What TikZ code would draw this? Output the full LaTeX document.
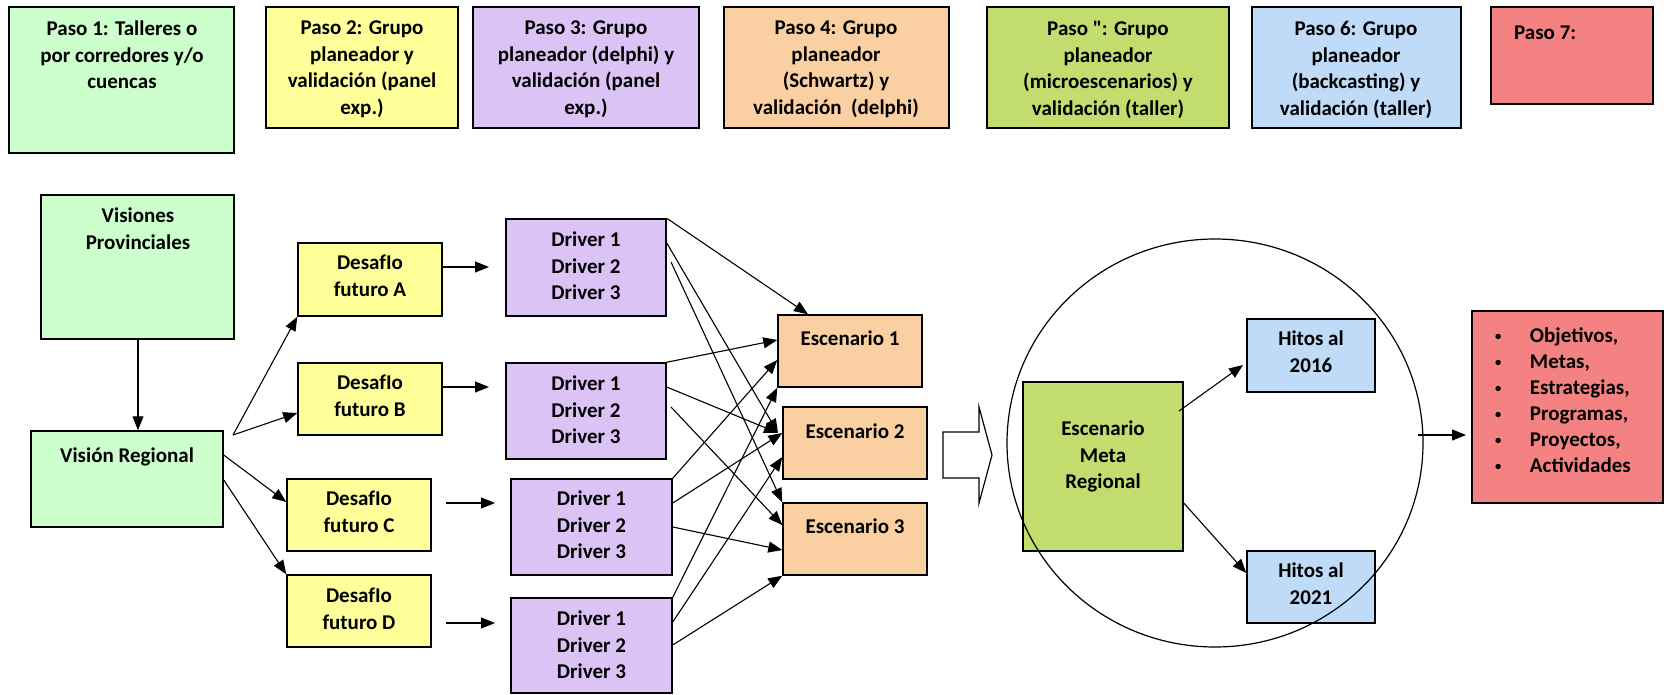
\documentclass[tikz,border=0pt]{standalone}
\usepackage{fontspec}
\usepackage{graphicx}
\setmainfont{Carlito}[Ligatures=TeXOff]
\usetikzlibrary{arrows.meta,fit,shapes.geometric}
\definecolor{cgreen}{HTML}{CCFFCC}
\definecolor{cyellow}{HTML}{FFFF99}
\definecolor{cpurple}{HTML}{DCC3F5}
\definecolor{cpeach}{HTML}{FAD0A2}
\definecolor{colive}{HTML}{C3DC6E}
\definecolor{cblue}{HTML}{BFDBF7}
\definecolor{cred}{HTML}{F58282}
\newcommand{\smallbul}{\raisebox{1.6pt}{\scalebox{0.6}{\textbullet}}}
\begin{document}
\begin{tikzpicture}[x=1pt,y=-1pt,
  box/.style={draw=black, line width=1.5pt, inner sep=0pt},
  txt/.style={anchor=north, inner sep=0pt, align=center, font=\fontsize{21}{26.5}\selectfont\bfseries, execute at begin node=\strut},
  arr/.style={line width=1.1pt, -{Triangle[length=14pt,width=11pt]}},
]
\useasboundingbox (0,0) rectangle (1664,695);

% top row
\node[box, fill=cgreen,  fit={(9,7) (234,153)}] (p1) {};
\node[box, fill=cyellow, fit={(266,7) (458,128)}] (p2) {};
\node[box, fill=cpurple, fit={(473,7) (699,128)}] (p3) {};
\node[box, fill=cpeach,  fit={(724,7) (949,128)}] (p4) {};
\node[box, fill=colive,  fit={(987,7) (1229,128)}] (p5) {};
\node[box, fill=cblue,   fit={(1252,7) (1461,128)}] (p6) {};
\node[box, fill=cred,    fit={(1491,7) (1653,104)}] (p7) {};
\node[txt] (p1t) at (122,21) {Paso 1: Talleres o\\por corredores y/o\\cuencas};
\node[txt] (p2t) at (362,21) {Paso 2: Grupo\\planeador y\\validación (panel\\exp.)};
\node[txt] (p3t) at (586,21) {Paso 3: Grupo\\planeador (delphi) y\\validación (panel\\exp.)};
\node[txt] (p4t) at (836,21) {Paso 4: Grupo\\planeador\\(Schwartz) y\\validación\ \ (delphi)};
\node[txt] (p5t) at (1108,21) {Paso ": Grupo\\planeador\\(microescenarios) y\\validación (taller)};
\node[txt] (p6t) at (1356,21) {Paso 6: Grupo\\planeador\\(backcasting) y\\validación (taller)};
\node[txt, anchor=north west] (p7t) at (1514,21) {Paso 7:};

% visions
\node[box, fill=cgreen, fit={(41,195) (234,339)}] (vis) {};
\node[txt] (vist) at (138,208) {Visiones\\Provinciales};
\node[box, fill=cgreen, fit={(31,431) (223,527)}] (vr) {};
\node[txt] (vrt) at (127,444) {Visión Regional};

% desafios
\node[box, fill=cyellow, fit={(298,243) (442,316)}] (da) {};
\node[box, fill=cyellow, fit={(298,363) (442,435)}] (db) {};
\node[box, fill=cyellow, fit={(287,479) (431,551)}] (dc) {};
\node[box, fill=cyellow, fit={(287,575) (431,647)}] (dd) {};
\node[txt] (dat) at (370,255) {DesafIo\\futuro A};
\node[txt] (dbt) at (370,375) {DesafIo\\futuro B};
\node[txt] (dct) at (359,491) {DesafIo\\futuro C};
\node[txt] (ddt) at (359,588) {DesafIo\\futuro D};

% drivers
\node[box, fill=cpurple, fit={(506,219) (666,316)}] (g1) {};
\node[box, fill=cpurple, fit={(506,363) (666,459)}] (g2) {};
\node[box, fill=cpurple, fit={(511,479) (672,575)}] (g3) {};
\node[box, fill=cpurple, fit={(511,598) (672,693)}] (g4) {};
\node[txt] (g1t) at (586,232) {Driver 1\\Driver 2\\Driver 3};
\node[txt] (g2t) at (586,376) {Driver 1\\Driver 2\\Driver 3};
\node[txt] (g3t) at (591.5,491) {Driver 1\\Driver 2\\Driver 3};
\node[txt] (g4t) at (591.5,611) {Driver 1\\Driver 2\\Driver 3};

% escenarios
\node[box, fill=cpeach, fit={(778,315) (922,387)}] (e1) {};
\node[box, fill=cpeach, fit={(783,407) (927,479)}] (e2) {};
\node[box, fill=cpeach, fit={(783,503) (927,575)}] (e3) {};
\node[txt] (e1t) at (850,327) {Escenario 1};
\node[txt] (e2t) at (855,420) {Escenario 2};
\node[txt] (e3t) at (855,515) {Escenario 3};

% hollow arrow
\draw[line width=1.2pt, fill=white] (943,432) -- (979,432) -- (979,407) -- (992,455) -- (979,503) -- (979,478) -- (943,478) -- cycle;

% meta + hitos
\node[box, fill=colive, fit={(1023,382) (1183,551)}] (meta) {};
\node[txt] (metat) at (1103,421) {Escenario\\Meta\\Regional};
\node[box, fill=cblue, fit={(1247,319) (1375,392)}] (h16) {};
\node[box, fill=cblue, fit={(1247,551) (1375,623)}] (h21) {};
\node[txt] (h16t) at (1311,331) {Hitos al\\2016};
\node[txt] (h21t) at (1311,563) {Hitos al\\2021};
\node[draw, ellipse, line width=1.2pt, minimum width=416pt, minimum height=408pt, inner sep=0pt] (circ) at (1215,443) {};

% red box
\node[box, fill=cred, fit={(1472,311) (1663,503)}] (red) {};
\node[anchor=north west, inner sep=0pt, font=\fontsize{21}{26}\selectfont\bfseries] (redt) at (1495,324)
  {\begin{tabular}{@{}l@{\hspace{28.5pt}}l@{}}
   \smallbul & Objetivos,\\
   \smallbul & Metas,\\
   \smallbul & Estrategias,\\
   \smallbul & Programas,\\
   \smallbul & Proyectos,\\
   \smallbul & Actividades
   \end{tabular}};

% connectors
\coordinate (fork) at (233,435);
\draw[arr] (vis.south -| 138,0) -- (vr.north -| 138,0);
\draw[arr] (fork) -- (da.south west);
\draw[arr] (fork) -- (db.west |- 0,413);
\draw[arr] (vr.east |- 0,455) -- (dc.west |- 0,502);
\draw[arr] (vr.east |- 0,480) -- (dd.north west);

\coordinate (ea) at (489,267);
\coordinate (eb) at (489,387);
\coordinate (ec) at (495,503);
\coordinate (ed) at (495,623);
\draw[arr] (da.east |- 0,267) -- (ea);
\draw[arr] (db.east |- 0,387) -- (eb);
\draw[arr] (446,503) -- (ec);
\draw[arr] (446,623) -- (ed);

% drivers -> escenarios
\draw[arr] (g1.north east) -- (e1.north -| 808,0);
\draw[arr] (g1.east |- 0,243) -- (778,433);
\draw[arr] (671,262) -- (e3.north west);
\draw[arr] (g2.north east) -- (e1.west |- 0,340);
\draw[arr] (g2.east |- 0,387) -- (778,433);
\draw[arr] (671,407) -- (e3.west |- 0,525);
\draw[arr] (g3.north east) -- (e1.west |- 0,360);
\draw[arr] (g3.east |- 0,503) -- (e2.west |- 0,433);
\draw[arr] (g3.east |- 0,527) -- (e3.west |- 0,550);
\draw[arr] (g4.north east) -- (e1.south west);
\draw[arr] (g4.east |- 0,622) -- (e2.west |- 0,457);
\draw[arr] (g4.east |- 0,645) -- (e3.south west);

% meta -> hitos
\draw[arr] (1179,411) -- (1243,365);
\draw[arr] (meta.east |- 0,503) -- (h21.west |- 0,573);
\coordinate (cout) at (1418,435);
\draw[arr] (cout) -- (1466,435);
\end{tikzpicture}
\end{document}
